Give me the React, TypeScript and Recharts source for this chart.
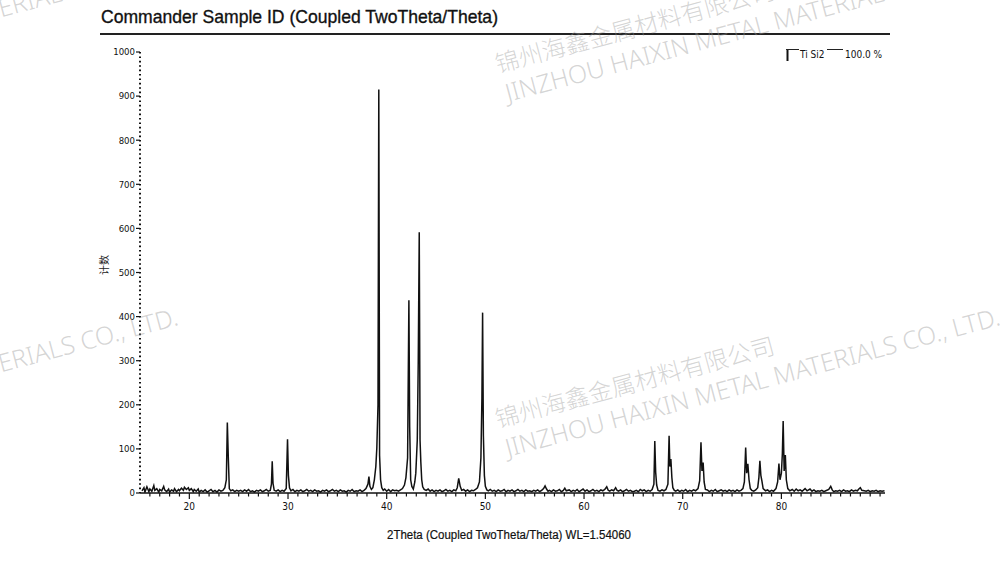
import React from 'react';
import { LineChart, Line, XAxis, YAxis } from 'recharts';

// 2Theta (deg) / counts pairs, one array per region
const scan15to25: [number, number][] = [
    [15.2, 5], [15.4, 12], [15.5, 2], [15.7, 14], [15.9, 3], [16.0, 9], [16.2, 4], [16.4, 17], [16.5, 6],
    [16.7, 10], [16.9, 2], [17.0, 8], [17.2, 5], [17.4, 15], [17.5, 7], [17.7, 3], [17.9, 9], [18.0, 2],
    [18.2, 7], [18.4, 4], [18.5, 10], [18.7, 3], [18.9, 8], [19.0, 5], [19.2, 11], [19.4, 6], [19.5, 13],
    [19.7, 8], [19.9, 12], [20.0, 6], [20.2, 10], [20.4, 3], [20.5, 8], [20.7, 4], [20.9, 9], [21.0, 2],
    [21.2, 6], [21.4, 3], [21.6, 7], [21.8, 2], [22.0, 5], [22.2, 8], [22.4, 3], [22.6, 6], [22.8, 2],
    [23.0, 7], [23.2, 4], [23.4, 6], [23.6, 12], [23.75, 30], [23.85, 160], [23.95, 80], [24.05, 10],
    [24.2, 5], [24.4, 7], [24.6, 3], [24.8, 6], [25.0, 4],
];

const scan25to35: [number, number][] = [
    [25.2, 6], [25.4, 3], [25.6, 7], [25.8, 4], [26.0, 8], [26.2, 3], [26.4, 5], [26.6, 2], [26.8, 6],
    [27.0, 4], [27.2, 7], [27.4, 3], [27.6, 5], [27.8, 8], [28.0, 4], [28.2, 6], [28.32, 20], [28.4, 72],
    [28.48, 22], [28.6, 6], [28.8, 4], [29.0, 7], [29.2, 3], [29.4, 6], [29.6, 4], [29.82, 10], [29.95, 122],
    [30.04, 40], [30.15, 12], [30.3, 5], [30.5, 8], [30.7, 3], [30.9, 6], [31.1, 4], [31.3, 7], [31.5, 3],
    [31.7, 5], [31.9, 8], [32.1, 4], [32.3, 6], [32.5, 3], [32.7, 7], [32.9, 4], [33.1, 5], [33.3, 2],
    [33.5, 6], [33.7, 4], [33.9, 7], [34.1, 3], [34.3, 5], [34.5, 8], [34.7, 4], [34.9, 6],
];

const scan35to45: [number, number][] = [
    [35.1, 3], [35.3, 7], [35.5, 4], [35.7, 5], [35.9, 2], [36.1, 6], [36.3, 4], [36.5, 8], [36.7, 3],
    [36.9, 5], [37.1, 4], [37.3, 7], [37.5, 3], [37.7, 6], [37.9, 10], [38.1, 20], [38.2, 37], [38.3, 15],
    [38.45, 8], [38.6, 12], [38.75, 30], [38.9, 60], [39.0, 102], [39.12, 200], [39.2, 915], [39.28, 85],
    [39.38, 30], [39.5, 12], [39.65, 6], [39.8, 9], [40.0, 4], [40.2, 8], [40.4, 3], [40.6, 7], [40.8, 5],
    [41.0, 6], [41.2, 4], [41.4, 7], [41.6, 10], [41.8, 18], [41.95, 35], [42.12, 80], [42.25, 437],
    [42.33, 150], [42.43, 30], [42.55, 15], [42.7, 9], [42.85, 25], [42.95, 45], [43.1, 120], [43.2, 300],
    [43.3, 591], [43.38, 120], [43.46, 70], [43.55, 30], [43.65, 14], [43.8, 8], [44.0, 6], [44.2, 9],
    [44.4, 4], [44.6, 7], [44.8, 3],
];

const scan45to55: [number, number][] = [
    [45.0, 6], [45.2, 4], [45.4, 7], [45.6, 3], [45.8, 5], [46.0, 8], [46.2, 4], [46.4, 6], [46.6, 3],
    [46.8, 7], [47.0, 5], [47.15, 12], [47.3, 33], [47.45, 15], [47.6, 6], [47.8, 8], [48.0, 4], [48.2, 7],
    [48.4, 3], [48.6, 6], [48.8, 5], [49.0, 8], [49.2, 12], [49.4, 25], [49.55, 80], [49.65, 215],
    [49.72, 409], [49.8, 130], [49.9, 40], [50.0, 15], [50.15, 7], [50.3, 5], [50.5, 8], [50.7, 4],
    [50.9, 6], [51.1, 3], [51.3, 7], [51.5, 4], [51.7, 5], [51.9, 8], [52.1, 3], [52.3, 6], [52.5, 4],
    [52.7, 7], [52.9, 3], [53.1, 5], [53.3, 8], [53.5, 4], [53.7, 6], [53.9, 3], [54.1, 7], [54.3, 4],
    [54.5, 5], [54.7, 3], [54.9, 6],
];

const scan55to65: [number, number][] = [
    [55.1, 4], [55.3, 7], [55.5, 3], [55.7, 6], [55.9, 10], [56.05, 16], [56.2, 9], [56.35, 4], [56.5, 6],
    [56.7, 3], [56.9, 7], [57.1, 4], [57.3, 5], [57.5, 8], [57.7, 3], [57.9, 6], [58.05, 11], [58.2, 5],
    [58.5, 7], [58.7, 3], [58.9, 6], [59.1, 4], [59.3, 8], [59.5, 3], [59.7, 6], [59.9, 9], [60.1, 4],
    [60.3, 7], [60.5, 3], [60.7, 5], [60.9, 8], [61.1, 4], [61.3, 6], [61.5, 3], [61.7, 7], [61.9, 5],
    [62.1, 8], [62.3, 14], [62.45, 6], [62.6, 4], [62.8, 7], [63.0, 5], [63.2, 12], [63.35, 6], [63.5, 4],
    [63.7, 7], [63.9, 3], [64.1, 5], [64.3, 8], [64.5, 4], [64.7, 6], [64.9, 3],
];

const scan65to75: [number, number][] = [
    [65.1, 4], [65.3, 6], [65.5, 3], [65.7, 8], [65.9, 5], [66.1, 7], [66.3, 3], [66.5, 6], [66.7, 4],
    [66.9, 8], [67.08, 20], [67.17, 118], [67.26, 47], [67.36, 18], [67.5, 6], [67.7, 4], [67.9, 7],
    [68.1, 5], [68.3, 8], [68.5, 20], [68.62, 130], [68.7, 60], [68.8, 77], [68.9, 35], [69.0, 12],
    [69.15, 6], [69.3, 4], [69.5, 7], [69.7, 3], [69.9, 6], [70.1, 4], [70.3, 8], [70.5, 3], [70.7, 6],
    [70.9, 4], [71.1, 7], [71.3, 5], [71.55, 10], [71.72, 28], [71.85, 115], [71.95, 50], [72.07, 69],
    [72.17, 25], [72.3, 8], [72.5, 7], [72.7, 3], [72.9, 6], [73.1, 4], [73.3, 8], [73.5, 3], [73.7, 5],
    [73.9, 7], [74.1, 4], [74.3, 6], [74.5, 3], [74.7, 7], [74.9, 4],
];

const scan75to90: [number, number][] = [
    [75.1, 6], [75.3, 3], [75.5, 7], [75.7, 4], [75.9, 6], [76.1, 10], [76.25, 25], [76.38, 103],
    [76.48, 45], [76.6, 66], [76.72, 30], [76.85, 10], [77.0, 6], [77.2, 4], [77.4, 7], [77.6, 12],
    [77.72, 35], [77.82, 73], [77.92, 40], [78.02, 28], [78.15, 10], [78.4, 5], [78.6, 7], [78.8, 3],
    [79.0, 6], [79.2, 4], [79.45, 10], [79.62, 25], [79.75, 67], [79.86, 30], [80.0, 45], [80.1, 90],
    [80.18, 163], [80.28, 50], [80.4, 86], [80.5, 30], [80.65, 10], [80.85, 5], [81.1, 8], [81.3, 4],
    [81.5, 9], [81.7, 5], [81.9, 7], [82.1, 4], [82.4, 10], [82.6, 5], [82.9, 9], [83.1, 4], [83.3, 7],
    [83.5, 3], [83.7, 5], [83.9, 4], [84.1, 6], [84.3, 3], [84.5, 5], [84.8, 8], [85.0, 15], [85.15, 7],
    [85.3, 3], [85.5, 5], [85.7, 4], [85.9, 6], [86.1, 3], [86.3, 7], [86.5, 4], [86.7, 5], [86.9, 3],
    [87.1, 7], [87.3, 4], [87.5, 6], [87.7, 5], [87.85, 9], [88.0, 12], [88.15, 6], [88.4, 5], [88.6, 4],
    [88.8, 6], [89.0, 3], [89.2, 5], [89.4, 4], [89.6, 6], [89.8, 3], [90.0, 5], [90.2, 4], [90.45, 5],
];

const yTicks = [0, 100, 200, 300, 400, 500, 600, 700, 800, 900, 1000];
const xLabelTicks = [20, 30, 40, 50, 60, 70, 80];
// one tick mark per degree
const xMinorTicks = Array.from({ length: 75 }, (_, i) => 16 + i);

const data = [scan15to25, scan25to35, scan35to45, scan45to55, scan55to65, scan65to75, scan75to90]
    .flat()
    .map(([angle, counts]) => ({ angle, counts }));

const axisFont = "'Liberation Sans Narrow', 'DejaVu Sans Condensed', Arial, sans-serif";
const plainFont = "'Liberation Sans', Arial, sans-serif";

const XTick = (props: any) => {
    const { x, y, payload } = props;
    const major = xLabelTicks.includes(payload.value);
    return (
        <g>
            <line x1={x} x2={x} y1={y} y2={y + (major ? 6 : 3.5)} stroke="#111" strokeWidth={1.2} />
            {major && (
                <text x={x} y={y + 17} textAnchor="middle" fontSize={10} fontFamily={axisFont} fill="#111">
                    {payload.value}
                </text>
            )}
        </g>
    );
};

const Watermark = ({ dx, dy }: { dx: number; dy: number }) => (
    <g fill="#9a9a9a" fillOpacity={0.42}>
        <text
            x={498 + dx}
            y={428 + dy}
            transform={`rotate(-15 ${498 + dx} ${428 + dy})`}
            fontSize={24}
            fontFamily="'Noto Sans CJK SC', sans-serif"
            fontWeight={300}
        >
            锦州海鑫金属材料有限公司
        </text>
        <text
            x={508 + dx}
            y={457 + dy}
            transform={`rotate(-15 ${508 + dx} ${457 + dy})`}
            fontSize={25}
            fontFamily="'Noto Sans', sans-serif"
            fontWeight={300}
        >
            JINZHOU HAIXIN METAL MATERIALS CO., LTD.
        </text>
    </g>
);

const App: React.FC = () => {
    return (
        <div style={{ position: 'absolute', left: 0, top: 0, width: 1000, height: 581, background: '#fff', overflow: 'hidden' }}>
            <LineChart width={1000} height={581} data={data} margin={{ top: 52, right: 115, bottom: 58, left: 100 }}>
                <XAxis
                    dataKey="angle"
                    type="number"
                    domain={[15, 90.5]}
                    ticks={xMinorTicks}
                    interval={0}
                    tickSize={0}
                    tickMargin={0}
                    tickLine={false}
                    tick={<XTick />}
                    axisLine={{ stroke: '#111', strokeWidth: 1.6 }}
                    height={30}
                    allowDataOverflow
                />
                <YAxis
                    type="number"
                    domain={[0, 1000]}
                    ticks={yTicks}
                    interval={0}
                    tickSize={4}
                    tickMargin={1}
                    width={40}
                    axisLine={{ stroke: '#111', strokeWidth: 2, strokeDasharray: '1.6 2.8' }}
                    tickLine={{ stroke: '#111', strokeWidth: 1.2 }}
                    tick={{ fontSize: 9.5, fill: '#111', fontFamily: axisFont }}
                    allowDataOverflow
                />
                <Line
                    type="linear"
                    dataKey="counts"
                    stroke="#111"
                    strokeWidth={1.5}
                    dot={false}
                    isAnimationActive={false}
                />
            </LineChart>
            <svg
                width={1000}
                height={581}
                style={{ position: 'absolute', left: 0, top: 0, pointerEvents: 'none' }}
            >
                <text
                    x={101}
                    y={23}
                    fontSize={19}
                    fontFamily={plainFont}
                    fill="#111"
                    stroke="#111"
                    strokeWidth={0.35}
                    textLength={397}
                    lengthAdjust="spacingAndGlyphs"
                >
                    Commander Sample ID (Coupled TwoTheta/Theta)
                </text>
                <line x1={100} x2={890} y1={34} y2={34} stroke="#222" strokeWidth={2} />

                {/* phase legend */}
                <line x1={786} x2={799} y1={49.5} y2={49.5} stroke="#222" strokeWidth={1} />
                <line x1={787.5} x2={787.5} y1={50} y2={61} stroke="#111" strokeWidth={2} />
                <text x={800} y={58} fontSize={10} fontFamily={axisFont} fill="#111">Ti Si2</text>
                <line x1={827} x2={843} y1={49.5} y2={49.5} stroke="#222" strokeWidth={1} />
                <text x={845} y={58} fontSize={10} fontFamily={axisFont} fill="#111">100.0 %</text>

                <text
                    x={108}
                    y={265}
                    transform="rotate(-90 108 265)"
                    textAnchor="middle"
                    fontSize={10}
                    fontFamily="'Noto Sans CJK SC', sans-serif"
                    fill="#222"
                >
                    计数
                </text>
                <text
                    x={387}
                    y={539}
                    fontSize={12.5}
                    fontFamily={plainFont}
                    fill="#111"
                    stroke="#111"
                    strokeWidth={0.2}
                    textLength={244}
                    lengthAdjust="spacingAndGlyphs"
                >
                    2Theta (Coupled TwoTheta/Theta) WL=1.54060
                </text>

                <Watermark dx={0} dy={0} />
                <Watermark dx={0} dy={-355} />
                <Watermark dx={-822} dy={0} />
                <Watermark dx={-822} dy={-355} />
            </svg>
        </div>
    );
};

export default App;
